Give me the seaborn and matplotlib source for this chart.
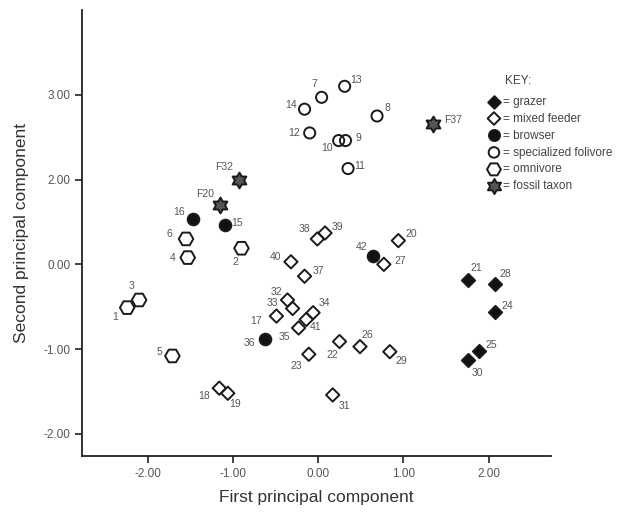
import pandas as pd
import seaborn as sns
import matplotlib.pyplot as plt
from matplotlib.path import Path

# point values (PC1, PC2)
grazer_ids = ["21", "24", "25", "28", "30"]
grazer_x = [1.76, 2.07, 1.89, 2.07, 1.76]
grazer_y = [-0.19, -0.56, -1.02, -0.23, -1.13]

mixed_ids = ["17", "18", "19", "20", "22", "23", "26", "27", "29", "31",
             "32", "33", "34", "35", "37", "38", "39", "40", "41"]
mixed_x = [-0.49, -1.16, -1.06, 0.94, 0.25, -0.11, 0.49, 0.77, 0.84, 0.17,
           -0.36, -0.30, -0.06, -0.23, -0.16, -0.01, 0.08, -0.32, -0.14]
mixed_y = [-0.61, -1.46, -1.52, 0.28, -0.91, -1.06, -0.97, 0.00, -1.03, -1.54,
           -0.42, -0.52, -0.57, -0.75, -0.14, 0.30, 0.37, 0.03, -0.65]

browser_ids = ["15", "16", "36", "42"]
browser_x = [-1.09, -1.47, -0.62, 0.64]
browser_y = [0.46, 0.54, -0.88, 0.10]

foli_ids = ["7", "8", "9", "10", "11", "12", "13", "14"]
foli_x = [0.04, 0.69, 0.32, 0.24, 0.35, -0.10, 0.31, -0.16]
foli_y = [1.97, 1.75, 1.46, 1.46, 1.13, 1.55, 2.10, 1.83]

omni_ids = ["1", "2", "3", "4", "5", "6"]
omni_x = [-2.24, -0.90, -2.10, -1.53, -1.71, -1.55]
omni_y = [-0.51, 0.19, -0.42, 0.08, -1.08, 0.30]

fossil_ids = ["F20", "F32", "F37"]
fossil_x = [-1.15, -0.93, 1.35]
fossil_y = [0.70, 0.99, 1.65]

x_ticks = [-2, -1, 0, 1, 2]
x_ticklabels = ["-2.00", "-1.00", "0.00", "1.00", "2.00"]
y_ticks = [-2, -1, 0, 1, 2]
y_ticklabels = ["-2.00", "-1.00", "0.00", "2.00", "3.00"]

# label offsets in pixels (dx, dy up) from each marker
label_off = {
    "7": (-7, 13), "13": (11, 6), "14": (-14, 4), "8": (10, 8), "12": (-16, 0),
    "10": (-12, -7), "9": (13, 3), "11": (12, 3), "F37": (20, 4),
    "F32": (-15, 13), "F20": (-15, 11), "16": (-14, 7), "15": (12, 2),
    "6": (-17, 5), "4": (-15, 0), "2": (-6, -14), "40": (-15, 5),
    "3": (-8, 14), "1": (-12, -9), "5": (-13, 4), "18": (-15, -8), "19": (7, -11),
    "36": (-16, -4), "17": (-20, -5), "33": (-20, 5), "32": (-11, 8), "35": (-14, -9),
    "38": (-13, 10), "39": (12, 6), "37": (14, 5), "42": (-11, 9), "27": (16, 3),
    "20": (13, 7), "34": (11, 10), "41": (9, -8), "22": (-7, -13), "26": (7, 12),
    "29": (11, -9), "23": (-13, -12), "31": (12, -11),
    "21": (8, 12), "28": (11, 10), "24": (13, 6), "25": (12, 6), "30": (9, -13),
}

star = Path.unit_regular_star(6, 0.58)

groups = [
    ("= grazer", grazer_ids, grazer_x, grazer_y, "D", 46, "#111111"),
    ("= mixed feeder", mixed_ids, mixed_x, mixed_y, "D", 46, "none"),
    ("= browser", browser_ids, browser_x, browser_y, "o", 70, "#111111"),
    ("= specialized folivore", foli_ids, foli_x, foli_y, "o", 64, "none"),
    ("= omnivore", omni_ids, omni_x, omni_y, "H", 110, "none"),
    ("= fossil taxon", fossil_ids, fossil_x, fossil_y, star, 130, "#555555"),
]

sns.set_style("ticks")
plt.rcParams["font.family"] = ["Liberation Sans", "DejaVu Sans"]

fig = plt.figure(figsize=(6.22, 5.17), dpi=100)
ax = fig.add_axes([82 / 622, 61 / 517, 469 / 622, 446 / 517])

for name, ids, xs, ys, mk, sz, fc in groups:
    df = pd.DataFrame({"pc1": xs, "pc2": ys, "id": ids})
    sns.scatterplot(data=df, x="pc1", y="pc2", marker=mk, s=sz,
                    facecolor=fc, edgecolor="#1a1a1a", linewidth=1.4,
                    label=name, ax=ax, zorder=3)
    for _, r in df.iterrows():
        dx, dy = label_off.get(r["id"], (10, 6))
        ax.annotate(r["id"], (r["pc1"], r["pc2"]), xytext=(dx, dy),
                    textcoords="offset pixels", ha="center", va="center",
                    fontsize=7.5, color="#555555")

ax.set_xlim(-2.77, 2.73)
ax.set_ylim(-2.26, 3.0)
ax.set_xticks(x_ticks)
ax.set_xticklabels(x_ticklabels)
ax.set_yticks(y_ticks)
ax.set_yticklabels(y_ticklabels)
ax.tick_params(length=5, width=1.2, labelsize=8.5, labelcolor="#555555", color="#222222")
for s in ["left", "bottom"]:
    ax.spines[s].set_linewidth(1.3)
    ax.spines[s].set_color("#222222")
sns.despine(ax=ax)

ax.set_xlabel("First principal component", fontsize=12.5, color="#333333", labelpad=7)
ax.set_ylabel("Second principal component", fontsize=12.5, color="#333333", labelpad=10)

ax.text(0.902, 0.841, "KEY:", transform=ax.transAxes, fontsize=8.5,
        color="#444444", ha="left", va="center")
leg = ax.legend(loc="upper left", bbox_to_anchor=(0.862, 0.808),
                frameon=False, fontsize=8.5, handletextpad=0.15,
                labelspacing=0.42, borderaxespad=0, borderpad=0,
                markerscale=0.95, handlelength=1.3)
for t in leg.get_texts():
    t.set_color("#444444")

plt.savefig("out.png", dpi=100)
